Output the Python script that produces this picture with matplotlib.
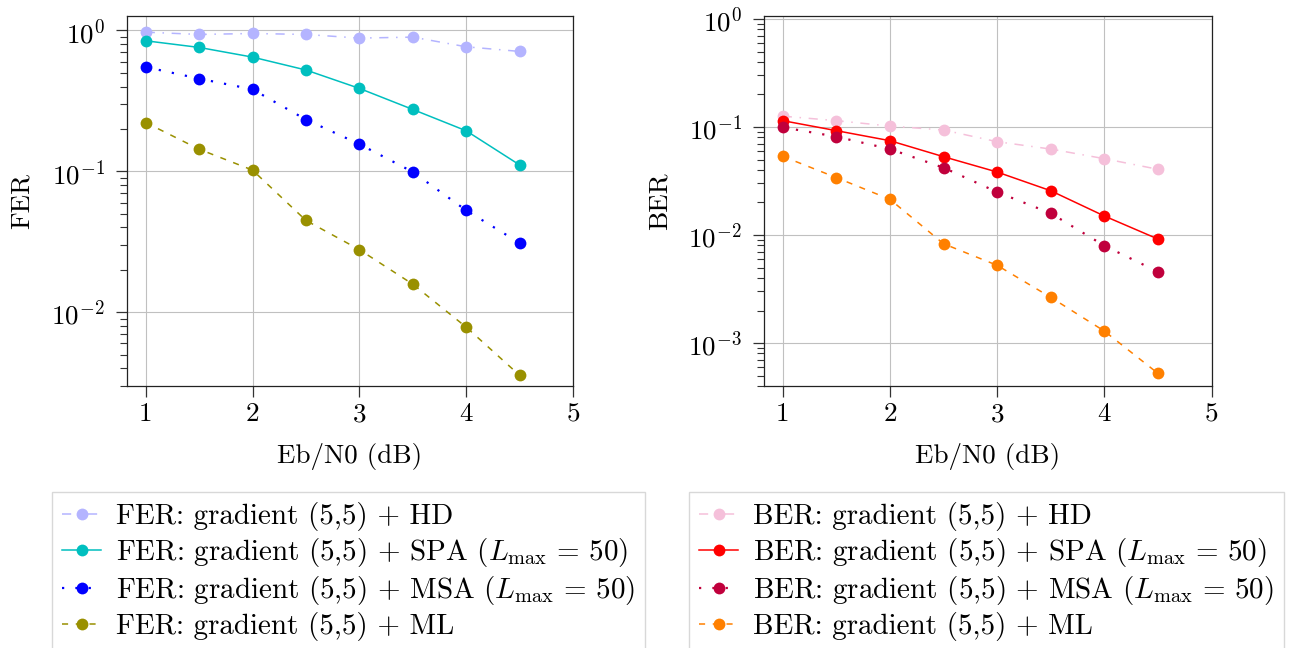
import matplotlib
matplotlib.use("Agg")
import matplotlib.pyplot as plt
from matplotlib.ticker import FuncFormatter, NullFormatter, LogLocator
import numpy as np

plt.rcParams['font.family'] = ['cmr10', 'DejaVu Serif']
plt.rcParams['mathtext.fontset'] = 'cm'
plt.rcParams['axes.formatter.use_mathtext'] = True
plt.rcParams['axes.unicode_minus'] = True

ebn0 = [1.0, 1.5, 2.0, 2.5, 3.0, 3.5, 4.0, 4.5]

fer_hd = [0.973, 0.937, 0.952, 0.937, 0.883, 0.897, 0.766, 0.710]
fer_spa = [0.845, 0.758, 0.647, 0.524, 0.388, 0.275, 0.194, 0.111]
fer_msa = [0.550, 0.455, 0.382, 0.233, 0.156, 0.099, 0.0528, 0.031]
fer_ml = [0.222, 0.1436, 0.102, 0.0448, 0.0278, 0.0158, 0.00783, 0.00356]

ber_hd = [0.126, 0.1145, 0.102, 0.0938, 0.0731, 0.0625, 0.0509, 0.0406]
ber_spa = [0.1145, 0.0925, 0.0747, 0.0531, 0.0383, 0.0257, 0.0150, 0.00918]
ber_msa = [0.0993, 0.0814, 0.0625, 0.042, 0.025, 0.0159, 0.00796, 0.00457]
ber_ml = [0.0535, 0.034, 0.0214, 0.0083, 0.00524, 0.00265, 0.00129, 0.000524]

fer_labels = [r"FER: gradient (5,5) + HD",
              r"FER: gradient (5,5) + SPA ($L_{\max}\,=\,50$)",
              r"FER: gradient (5,5) + MSA ($L_{\max}\,=\,50$)",
              r"FER: gradient (5,5) + ML"]
ber_labels = [r"BER: gradient (5,5) + HD",
              r"BER: gradient (5,5) + SPA ($L_{\max}\,=\,50$)",
              r"BER: gradient (5,5) + MSA ($L_{\max}\,=\,50$)",
              r"BER: gradient (5,5) + ML"]

fer_colors = ['#b4b4ff', '#00bfbf', '#0000ff', '#999000']
ber_colors = ['#f5c0da', '#ff0000', '#c0003c', '#ff8000']
styles = [(0, (6, 5, 1, 5)), '-', (0, (1, 5)), (0, (4, 5))]
widths = [1.1, 1.1, 1.6, 1.1]

W, H = 1294, 648
fig = plt.figure(figsize=(W / 100, H / 100), dpi=100)

def px_axes(l, r, t, b):
    return fig.add_axes([l / W, 1 - b / H, (r - l) / W, (b - t) / H])

ax1 = px_axes(127, 573, 16, 386)
ax2 = px_axes(764, 1211.5, 16, 386)

def style_ax(ax, series, colors, labels, ylabel, ylim, ylab_x):
    for y, c, ls, lw, lab in zip(series, colors, styles, widths, labels):
        ax.plot(ebn0, y, color=c, linestyle=ls, linewidth=lw, marker='o',
                markersize=8.5, markeredgewidth=0, label=lab, zorder=3)
    ax.set_yscale('log')
    ax.set_xlim(0.825, 5)
    ax.set_ylim(*ylim)
    ax.set_xticks([1, 2, 3, 4, 5])
    ax.xaxis.set_major_formatter(FuncFormatter(lambda v, p: "%d" % v))
    ax.yaxis.set_major_locator(LogLocator(base=10, numticks=10))
    ax.yaxis.set_minor_locator(LogLocator(base=10, subs=np.arange(2, 10), numticks=20))
    ax.yaxis.set_major_formatter(FuncFormatter(lambda v, p: r"$10^{%d}$" % int(round(np.log10(v)))))
    ax.yaxis.set_minor_formatter(NullFormatter())
    ax.grid(True, which='major', color='#c0c0c0', linewidth=0.8)
    ax.set_axisbelow(True)
    ax.tick_params(axis='both', which='major', direction='out', length=8, width=0.9,
                   labelsize=19.5, color='#333333')
    ax.tick_params(axis='x', which='major', pad=4)
    ax.tick_params(axis='y', which='major', pad=8)
    ax.tick_params(axis='y', which='minor', direction='out', length=5, width=0.8, color='#333333')
    for s in ax.spines.values():
        s.set_color('#222222')
        s.set_linewidth(0.9)
    ax.set_xlabel("Eb/N0 (dB)", fontsize=19.5)
    ax.set_ylabel(ylabel, fontsize=19.5)
    ax.xaxis.label.set_verticalalignment('center')
    ax.yaxis.label.set_verticalalignment('center')
    ax.xaxis.set_label_coords(0.5, (386 - 456) / 370)
    ax.yaxis.set_label_coords(ylab_x, 0.5)

style_ax(ax1, [fer_hd, fer_spa, fer_msa, fer_ml], fer_colors, fer_labels, "FER",
         (0.00299, 1.267), (22 - 127) / 446)
style_ax(ax2, [ber_hd, ber_spa, ber_msa, ber_ml], ber_colors, ber_labels, "BER",
         (0.000400, 1.066), (660 - 764) / 447.5)

for ax, x0 in [(ax1, 52), (ax2, 689)]:
    h, l = ax.get_legend_handles_labels()
    leg = fig.legend(h, l, loc='upper left', bbox_to_anchor=(x0 / W, 1 - 492 / H),
                     fontsize=20.9, frameon=True, fancybox=False, edgecolor='#d8d8d8',
                     framealpha=1, handlelength=1.35, handletextpad=0.5,
                     labelspacing=0.17, borderpad=0.35, borderaxespad=0)
    leg.get_frame().set_linewidth(1.0)

fig.savefig("out.png", dpi=100)
